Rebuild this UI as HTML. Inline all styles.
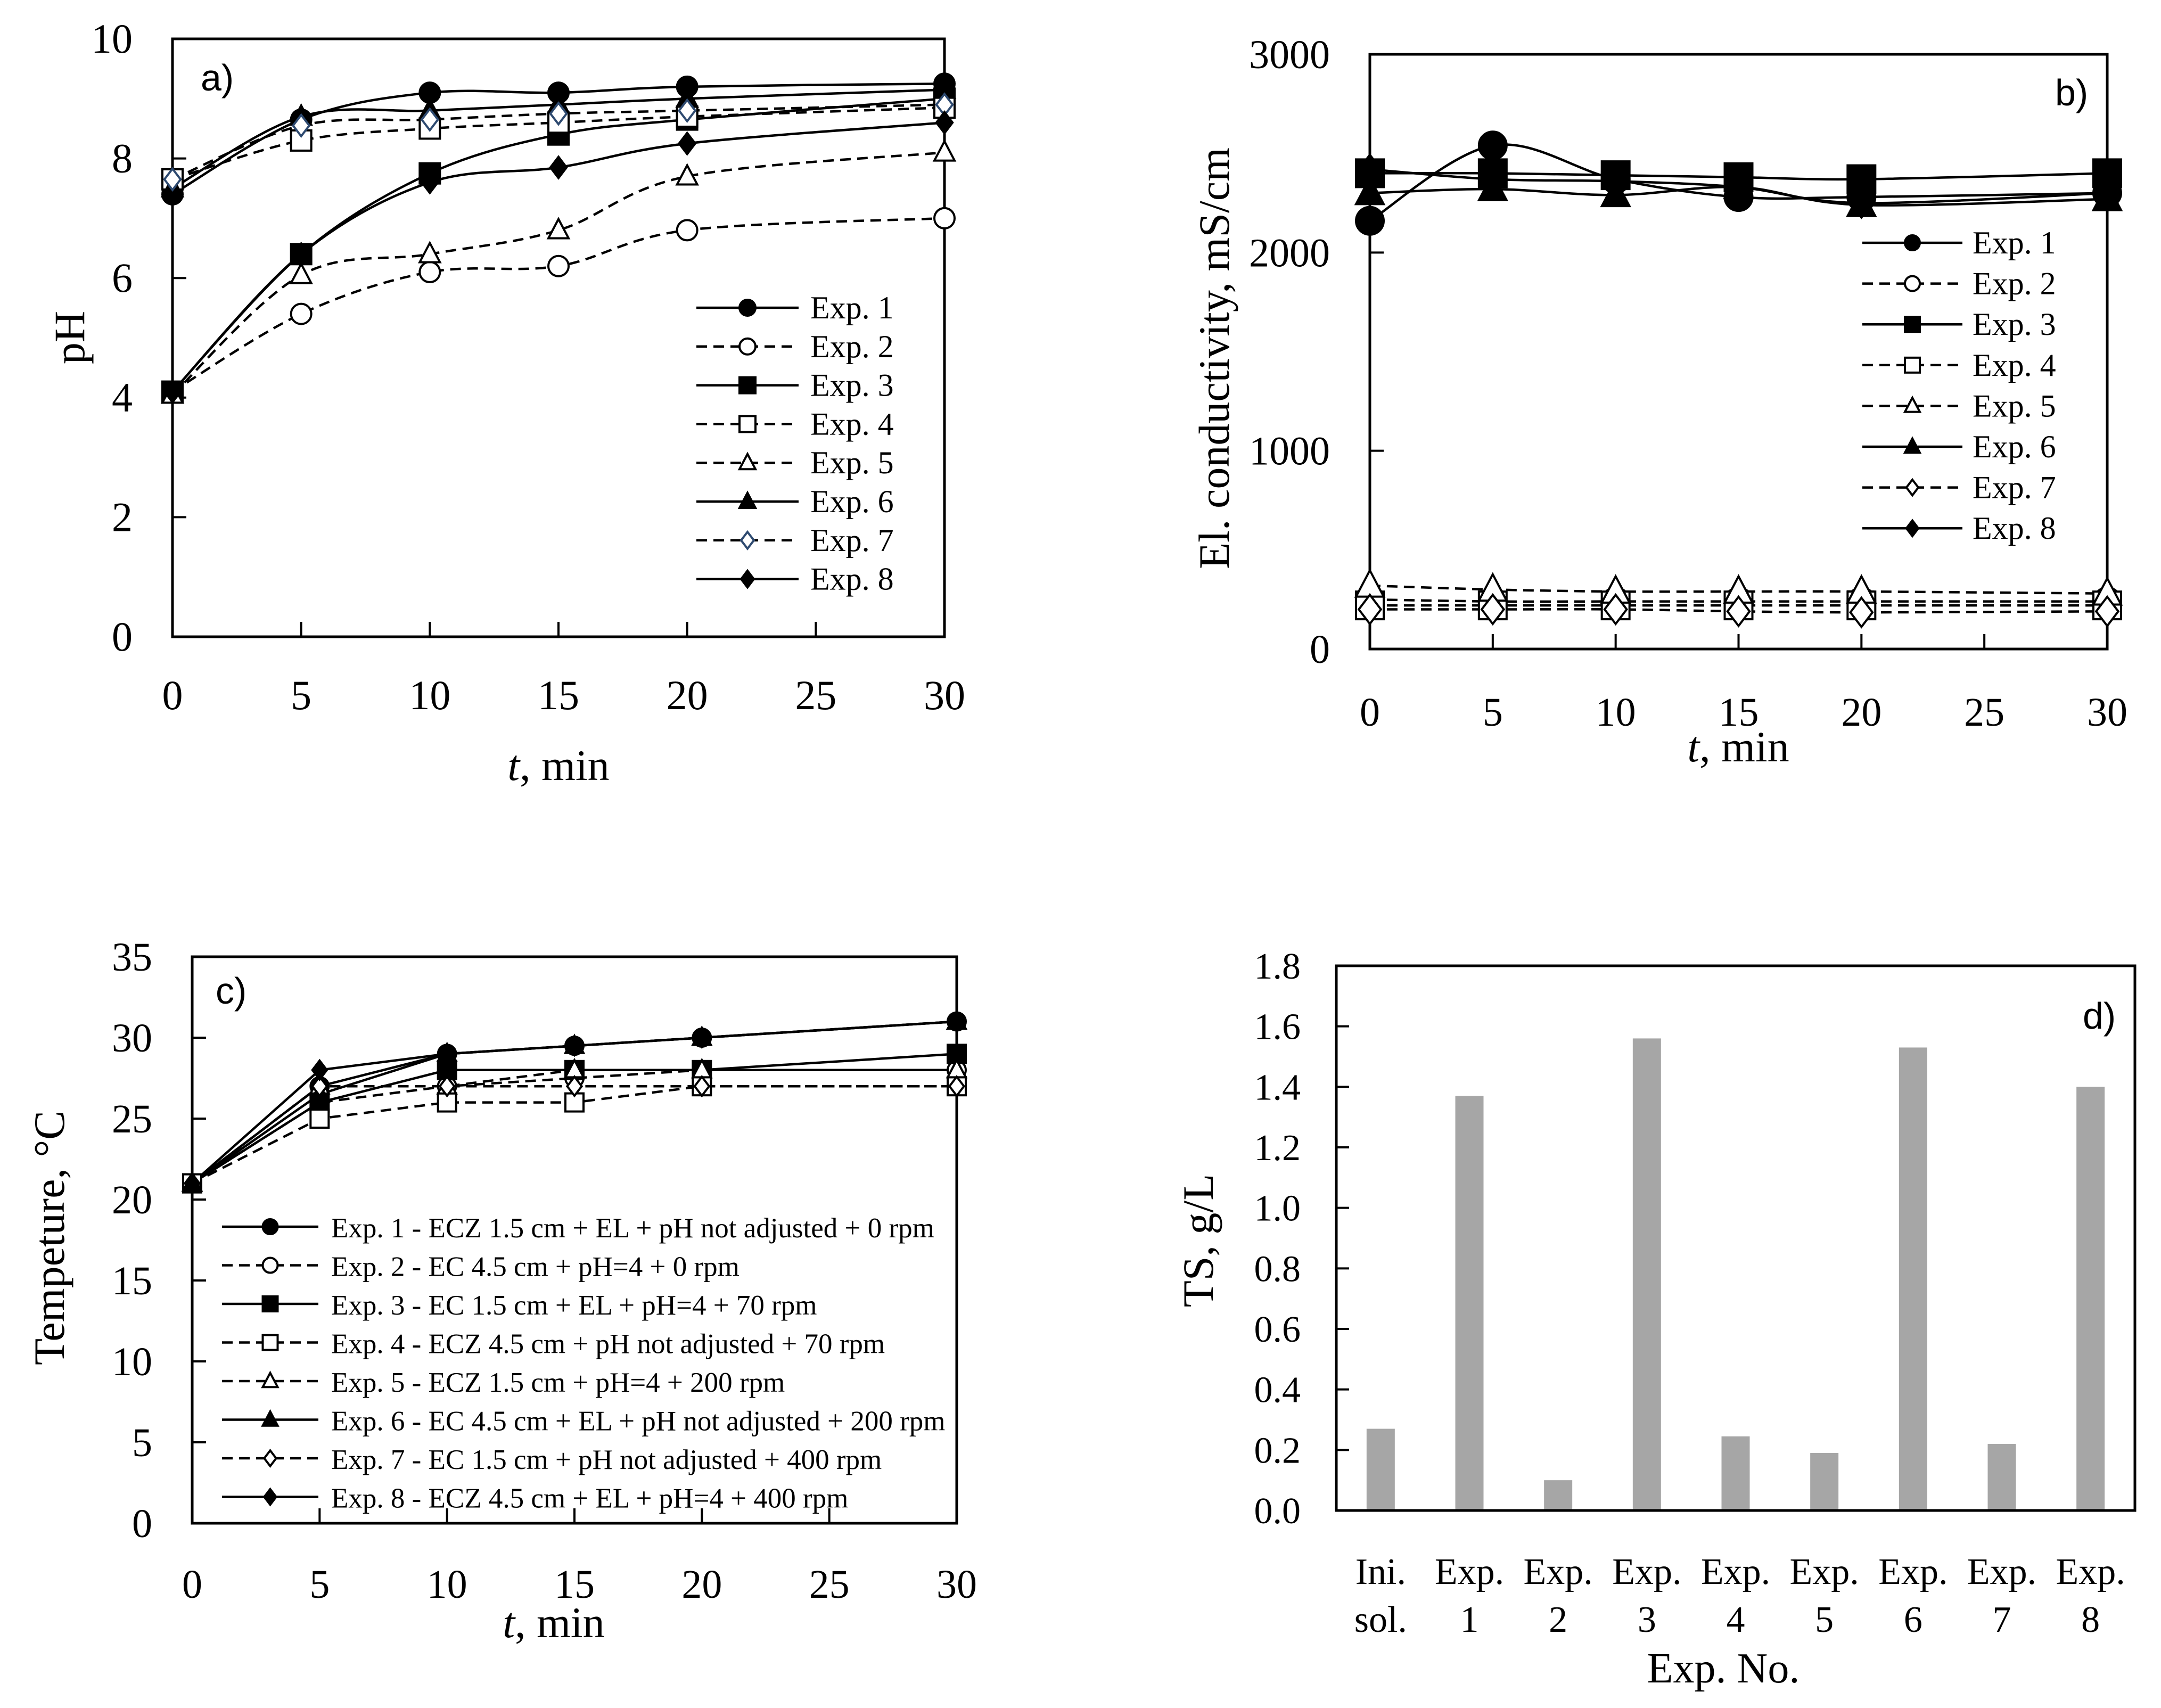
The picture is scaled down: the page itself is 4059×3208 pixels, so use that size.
<!DOCTYPE html>
<html><head><meta charset="utf-8">
<style>
html,body{margin:0;padding:0;background:#fff;}
svg{display:block;}
text{font-family:"Liberation Serif",serif;fill:#000;}
.lbl{font-family:"Liberation Sans",sans-serif;}
</style></head>
<body>
<svg id="fig" width="4059" height="3208" viewBox="0 0 4059 3208" xmlns="http://www.w3.org/2000/svg"></svg>
<script>
// ---------- data ----------
const times = [0, 5, 10, 15, 20, 30];
const expNames = ["Exp. 1","Exp. 2","Exp. 3","Exp. 4","Exp. 5","Exp. 6","Exp. 7","Exp. 8"];
const phExp1 = [7.4, 8.65, 9.1, 9.1, 9.2, 9.25];
const phExp2 = [4.1, 5.4, 6.1, 6.2, 6.8, 7.0];
const phExp3 = [4.1, 6.4, 7.75, 8.4, 8.65, 9.0];
const phExp4 = [7.65, 8.3, 8.5, 8.6, 8.7, 8.85];
const phExp5 = [4.05, 6.05, 6.4, 6.8, 7.7, 8.1];
const phExp6 = [7.5, 8.7, 8.8, 8.9, 9.0, 9.15];
const phExp7 = [7.65, 8.55, 8.65, 8.75, 8.8, 8.9];
const phExp8 = [4.1, 6.4, 7.6, 7.85, 8.25, 8.6];
const ecExp1 = [2160, 2540, 2370, 2280, 2280, 2300];
const ecExp2 = [250, 240, 240, 240, 240, 240];
const ecExp3 = [2400, 2400, 2390, 2380, 2370, 2400];
const ecExp4 = [220, 220, 220, 220, 220, 220];
const ecExp5 = [320, 300, 290, 290, 290, 280];
const ecExp6 = [2300, 2320, 2290, 2330, 2240, 2270];
const ecExp7 = [200, 200, 200, 190, 185, 190];
const ecExp8 = [2420, 2370, 2360, 2330, 2250, 2300];
const tExp1 = [21, 27, 29, 29.5, 30, 31];
const tExp2 = [21, 26, 27, 27.5, 28, 28];
const tExp3 = [21, 26, 28, 28, 28, 29];
const tExp4 = [21, 25, 26, 26, 27, 27];
const tExp5 = [21, 27, 27, 28, 28, 28];
const tExp6 = [21, 26.5, 29, 29.5, 30, 31];
const tExp7 = [21, 27, 27, 27, 27, 27];
const tExp8 = [21, 28, 29, 29.5, 30, 31];
const tsCategories = [["Ini.","sol."],["Exp.","1"],["Exp.","2"],["Exp.","3"],["Exp.","4"],["Exp.","5"],["Exp.","6"],["Exp.","7"],["Exp.","8"]];
const tsValues = [0.27, 1.37, 0.10, 1.56, 0.245, 0.19, 1.53, 0.22, 1.40];
const xTicks = [0, 5, 10, 15, 20, 25, 30];
const phTicks = [0, 2, 4, 6, 8, 10];
const ecTicks = [0, 1000, 2000, 3000];
const tempTicks = [0, 5, 10, 15, 20, 25, 30, 35];
const tsTicks = [0, 0.2, 0.4, 0.6, 0.8, 1.0, 1.2, 1.4, 1.6, 1.8];
const cLegend = [
 "Exp. 1 - ECZ 1.5 cm + EL + pH not adjusted + 0 rpm",
 "Exp. 2 - EC 4.5 cm + pH=4 + 0 rpm",
 "Exp. 3 - EC 1.5 cm + EL + pH=4 + 70 rpm",
 "Exp. 4 - ECZ 4.5 cm + pH not adjusted + 70 rpm",
 "Exp. 5 - ECZ 1.5 cm + pH=4 + 200 rpm",
 "Exp. 6 - EC 4.5 cm + EL + pH not adjusted + 200 rpm",
 "Exp. 7 - EC 1.5 cm +  pH not adjusted + 400 rpm",
 "Exp. 8 - ECZ 4.5 cm +  EL + pH=4 + 400 rpm"];

// ---------- helpers ----------
const NS = "http://www.w3.org/2000/svg";
const svg = document.getElementById('fig');
function mk(tag, attrs, parent){
  const e = document.createElementNS(NS, tag);
  for (const k in attrs) e.setAttribute(k, attrs[k]);
  (parent||svg).appendChild(e);
  return e;
}
const markerTypes = ["fcircle","ocircle","fsquare","osquare","otri","ftri","odiamond","fdiamond"];
const dashed = [false,true,false,true,true,false,true,false];
function marker(g, type, x, y, s, stroke){
  const fill = type[0]==='f' ? '#000' : '#fff';
  const st = stroke || '#000';
  const sw = 4;
  const h = s/2;
  let e;
  if (type.endsWith('circle')) e = mk('circle',{cx:x,cy:y,r:h,fill:fill,stroke:st,'stroke-width':sw},g);
  else if (type.endsWith('square')) e = mk('rect',{x:x-h,y:y-h,width:s,height:s,fill:fill,stroke:st,'stroke-width':sw},g);
  else if (type.endsWith('tri')) e = mk('polygon',{points:`${x},${y-h*1.1} ${x+h},${y+h*0.8} ${x-h},${y+h*0.8}`,fill:fill,stroke:st,'stroke-width':sw},g);
  else e = mk('polygon',{points:`${x},${y-h*1.05} ${x+h*0.8},${y} ${x},${y+h*1.05} ${x-h*0.8},${y}`,fill:fill,stroke:st,'stroke-width':sw},g);
  return e;
}
function smoothPath(pts){
  let d = `M${pts[0][0]},${pts[0][1]}`;
  for (let i=0;i<pts.length-1;i++){
    const p0 = pts[Math.max(0,i-1)], p1=pts[i], p2=pts[i+1], p3=pts[Math.min(pts.length-1,i+2)];
    const c1x = p1[0]+(p2[0]-p0[0])/6, c1y = p1[1]+(p2[1]-p0[1])/6;
    const c2x = p2[0]-(p3[0]-p1[0])/6, c2y = p2[1]-(p3[1]-p1[1])/6;
    d += ` C${c1x},${c1y} ${c2x},${c2y} ${p2[0]},${p2[1]}`;
  }
  return d;
}
function linePath(pts){ return pts.map((p,i)=>(i?'L':'M')+p[0]+','+p[1]).join(' '); }

function frame(g, L, T, R, B){
  mk('rect',{x:L,y:T,width:R-L,height:B-T,fill:'none',stroke:'#000','stroke-width':5},g);
}

function lineChart(cfg){
  const g = mk('g',{});
  
  
  const {L,T,R,B,ymin,ymax} = cfg;
  const xs = v => L + (v-0)/(30-0)*(R-L);
  const ys = v => B - (v-ymin)/(ymax-ymin)*(B-T);
  frame(g,L,T,R,B);
  xTicks.forEach(t=>{
    const x = xs(t);
    const tk = mk('line',{x1:x,y1:B,x2:x,y2:B-28,stroke:'#000','stroke-width':4},g);
    
    
    const tl = mk('text',{x:x,y:B+cfg.xLabOff,'font-size':cfg.fs,'text-anchor':'middle'},g);
    tl.textContent = t;
    
    
  });
  cfg.yTicks.forEach(t=>{
    const y = ys(t);
    const tk = mk('line',{x1:L,y1:y,x2:L+26,y2:y,stroke:'#000','stroke-width':4},g);
    
    
    const tl = mk('text',{x:L-75,y:y+26,'font-size':cfg.fs,'text-anchor':'end'},g);
    tl.textContent = t;
    
    
  });
  cfg.series.forEach((vals,i)=>{
    const pts = times.map((t,j)=>[xs(t), ys(vals[j])]);
    const p = mk('path',{d: cfg.smooth ? smoothPath(pts) : linePath(pts), fill:'none', stroke:'#000','stroke-width':4.5,'stroke-dasharray': dashed[i] ? '20 12' : 'none'},g);
    
    
  });
  cfg.series.forEach((vals,i)=>{
    times.forEach((t,j)=>{
      const m = marker(g, markerTypes[i], xs(t), ys(vals[j]), cfg.ms, (i===6 && cfg.blue) ? '#2e4a70' : null);
      
      
    });
  });
  // legend
  const lg = mk('g',{},g);
  
  
  cfg.legendText.forEach((txt,i)=>{
    const y = cfg.lgY + i*cfg.lgDy;
    const e = mk('g',{},lg);
    
    
    mk('line',{x1:cfg.lgX1,y1:y,x2:cfg.lgX2,y2:y,stroke:'#000','stroke-width':4.5,'stroke-dasharray':dashed[i]?'20 12':'none'},e);
    marker(e, markerTypes[i], (cfg.lgX1+cfg.lgX2)/2, y, cfg.lgMs, (i===6 && cfg.blue) ? '#2e4a70' : null);
    const tx = mk('text',{x:cfg.lgTx,y:y+20,'font-size':cfg.lgFs},e);
    tx.textContent = txt;
  });
  const pl = mk('text',{x:cfg.panelX,y:cfg.panelY,'font-size':70,class:'lbl'},g);
  pl.textContent = cfg.panel;
  
  
  const xt = mk('text',{x:cfg.xtX,y:cfg.xtY,'font-size':82,'text-anchor':'middle'},g);
  xt.innerHTML = '<tspan font-style="italic">t</tspan>, min';
  
  
  const yt = mk('text',{x:0,y:0,'font-size':82,'text-anchor':'middle',transform:`translate(${cfg.ytX},${cfg.ytY}) rotate(-90)`},g);
  yt.textContent = cfg.yTitle;
  
  
}

// Chart a
lineChart({name:'ph-chart',L:324,T:73,R:1774,B:1196,ymin:0,ymax:10,yTicks:phTicks,fs:78,xLabOff:136,
  series:[phExp1,phExp2,phExp3,phExp4,phExp5,phExp6,phExp7,phExp8],smooth:true,ms:38,blue:true,
  legendText:expNames,lgX1:1308,lgX2:1500,lgY:578,lgDy:72.8,lgMs:30,lgTx:1522,lgFs:60,
  panel:'a)',panelX:377,panelY:170,xtX:1049,xtY:1465,yTitle:'pH',ytX:158,ytY:634});
// Chart b
lineChart({name:'conductivity-chart',L:2573,T:102,R:3958,B:1219,ymin:0,ymax:3000,yTicks:ecTicks,fs:76,xLabOff:144,
  series:[ecExp1,ecExp2,ecExp3,ecExp4,ecExp5,ecExp6,ecExp7,ecExp8],smooth:true,ms:52,blue:false,
  legendText:expNames,lgX1:3498,lgX2:3686,lgY:456,lgDy:76.6,lgMs:28,lgTx:3705,lgFs:60,
  panel:'b)',panelX:3860,panelY:198,xtX:3265,xtY:1430,yTitle:'El. conductivity, mS/cm',ytX:2308,ytY:673});
// Chart c
lineChart({name:'temperature-chart',L:361,T:1797,R:1797,B:2861,ymin:0,ymax:35,yTicks:tempTicks,fs:76,xLabOff:140,
  series:[tExp1,tExp2,tExp3,tExp4,tExp5,tExp6,tExp7,tExp8],smooth:false,ms:34,blue:false,
  legendText:cLegend,lgX1:417,lgX2:598,lgY:2304,lgDy:72.5,lgMs:28,lgTx:622,lgFs:53,
  panel:'c)',panelX:405,panelY:1885,xtX:1040,xtY:3075,yTitle:'Tempeture, °C',ytX:120,ytY:2325});

// Chart d (bar)
(function(){
  const g = mk('g',{});
  
  
  const L=2510,T=1814,R=4010,B=2837,ymax=1.8;
  const bw = (R-L)/tsCategories.length;
  const ys = v => B - v/ymax*(B-T);
  tsValues.forEach((v,i)=>{
    const cx = L + bw*(i+0.5);
    const r = mk('rect',{x:cx-26.5,y:ys(v),width:53,height:B-ys(v),fill:'#a6a6a6'},g);
    
    
    tsCategories[i].forEach((ln,k)=>{
      const t = mk('text',{x:cx,y:2975+k*90,'font-size':70,'text-anchor':'middle'},g);
      t.textContent = ln;
      
      
    });
  });
  frame(g,L,T,R,B);
  tsTicks.forEach(t=>{
    const y = ys(t);
    const tk = mk('line',{x1:L,y1:y,x2:L+24,y2:y,stroke:'#000','stroke-width':4},g);
    
    
    const tl = mk('text',{x:L-67,y:y+24,'font-size':70,'text-anchor':'end'},g);
    tl.textContent = t.toFixed(1);
    
    
  });
  const pl = mk('text',{x:3912,y:1932,'font-size':70,class:'lbl'},g);
  pl.textContent = 'd)';
  
  
  const xt = mk('text',{x:3237,y:3160,'font-size':80,'text-anchor':'middle'},g);
  xt.textContent = 'Exp. No.';
  
  
  const yt = mk('text',{x:0,y:0,'font-size':82,'text-anchor':'middle',transform:'translate(2278,2330) rotate(-90)'},g);
  yt.textContent = 'TS, g/L';
  
  
})();
</script>
</body></html>
